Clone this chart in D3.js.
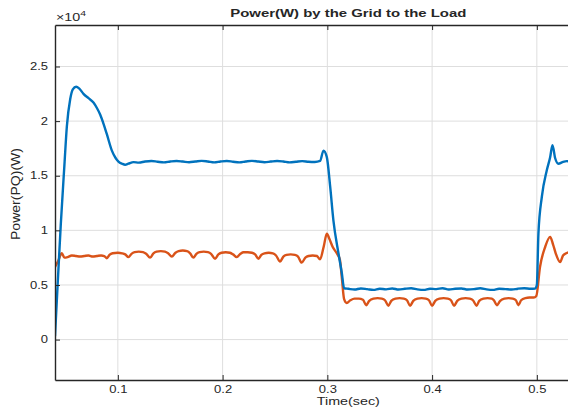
<!DOCTYPE html>
<html>
<head>
<meta charset="utf-8">
<script src="https://cdn.jsdelivr.net/npm/d3@7"></script>
<style>
  html, body { margin: 0; padding: 0; background: #fff; }
  svg { display: block; }
  text { font-family: "Liberation Sans", Arial, sans-serif; fill: #262626; }
</style>
</head>
<body>
<svg id="chart" width="568" height="409"></svg>
<script>
// Grid active power P (×10^4 W) over time (s)
const pTime = [0.040,0.0425,0.0455,0.049,0.0513,0.0545,0.057,0.0602,0.063,0.0672,0.072,0.0767,0.080,0.0831,0.0865,0.0895,0.0943,0.098,0.1006,0.104,0.107,0.110,0.115,0.120,0.126,0.132,0.138,0.144,0.150,0.156,0.162,0.168,0.174,0.180,0.186,0.192,0.198,0.204,0.210,0.216,0.222,0.228,0.234,0.240,0.246,0.252,0.258,0.264,0.270,0.276,0.282,0.288,0.2931,0.2963,0.2995,0.3027,0.3058,0.3106,0.3138,0.316,0.320,0.326,0.332,0.338,0.344,0.350,0.356,0.362,0.368,0.374,0.380,0.386,0.392,0.398,0.404,0.410,0.416,0.422,0.428,0.434,0.440,0.446,0.452,0.458,0.464,0.470,0.476,0.482,0.488,0.494,0.4984,0.500,0.5015,0.5048,0.5095,0.5127,0.5149,0.5175,0.5206,0.5245,0.5286,0.533,0.540];
const pValue = [0.03,0.50,1.05,1.60,1.95,2.20,2.29,2.315,2.30,2.25,2.21,2.17,2.12,2.06,1.97,1.88,1.73,1.66,1.63,1.61,1.60,1.61,1.625,1.62,1.63,1.635,1.628,1.622,1.63,1.635,1.63,1.624,1.63,1.636,1.63,1.622,1.63,1.635,1.628,1.622,1.63,1.636,1.63,1.624,1.63,1.635,1.63,1.622,1.628,1.634,1.628,1.626,1.635,1.73,1.67,1.40,1.09,0.79,0.61,0.47,0.465,0.458,0.468,0.462,0.455,0.466,0.46,0.468,0.458,0.465,0.47,0.46,0.455,0.466,0.462,0.47,0.458,0.465,0.468,0.458,0.462,0.47,0.46,0.455,0.466,0.462,0.458,0.466,0.47,0.465,0.468,0.50,0.97,1.31,1.55,1.67,1.78,1.66,1.61,1.625,1.634,1.63,1.632];

// Grid reactive power Q (×10^4 W) over time (s)
const qTime = [0.040,0.043,0.0465,0.049,0.052,0.056,0.060,0.064,0.068,0.072,0.076,0.080,0.084,0.087,0.0895,0.092,0.095,0.100,0.104,0.107,0.1101,0.113,0.116,0.120,0.124,0.127,0.1308,0.134,0.137,0.141,0.145,0.148,0.1515,0.155,0.158,0.162,0.166,0.169,0.1721,0.175,0.178,0.182,0.186,0.189,0.1928,0.196,0.199,0.203,0.207,0.210,0.2135,0.217,0.220,0.224,0.228,0.231,0.2342,0.237,0.240,0.244,0.248,0.251,0.2549,0.258,0.261,0.265,0.269,0.272,0.2755,0.279,0.282,0.286,0.290,0.293,0.2965,0.2995,0.302,0.305,0.309,0.312,0.3138,0.316,0.3185,0.322,0.326,0.330,0.334,0.337,0.340,0.344,0.348,0.352,0.355,0.3583,0.361,0.365,0.369,0.373,0.376,0.379,0.382,0.386,0.390,0.394,0.397,0.400,0.403,0.407,0.411,0.415,0.418,0.421,0.424,0.428,0.432,0.436,0.439,0.4425,0.445,0.449,0.453,0.457,0.459,0.4618,0.465,0.469,0.473,0.477,0.480,0.4824,0.485,0.489,0.493,0.497,0.4995,0.503,0.508,0.5127,0.5155,0.518,0.5222,0.525,0.528,0.532,0.540];
const qValue = [0.665,0.72,0.79,0.75,0.755,0.77,0.765,0.76,0.765,0.77,0.76,0.765,0.77,0.765,0.745,0.775,0.79,0.795,0.79,0.78,0.755,0.785,0.80,0.805,0.80,0.785,0.75,0.79,0.805,0.81,0.805,0.79,0.76,0.795,0.81,0.815,0.81,0.79,0.75,0.785,0.80,0.805,0.80,0.785,0.74,0.78,0.795,0.80,0.795,0.78,0.755,0.785,0.80,0.80,0.795,0.78,0.74,0.775,0.79,0.795,0.79,0.77,0.715,0.76,0.775,0.78,0.775,0.76,0.705,0.75,0.765,0.77,0.765,0.735,0.85,0.97,0.92,0.85,0.79,0.73,0.57,0.37,0.335,0.36,0.375,0.375,0.365,0.315,0.355,0.375,0.38,0.375,0.36,0.31,0.355,0.375,0.38,0.375,0.36,0.31,0.355,0.375,0.38,0.375,0.36,0.31,0.355,0.375,0.38,0.375,0.36,0.31,0.355,0.375,0.38,0.375,0.36,0.31,0.355,0.375,0.38,0.375,0.36,0.315,0.355,0.375,0.38,0.375,0.36,0.315,0.36,0.38,0.385,0.385,0.40,0.665,0.85,0.94,0.87,0.79,0.71,0.77,0.79,0.80,0.80];

const xTicks = [0.1, 0.2, 0.3, 0.4, 0.5];
const yTicks = [0, 0.5, 1, 1.5, 2, 2.5];

const titleText = "Power(W) by the Grid to the Load";
const xLabelText = "Time(sec)";
const yLabelText = "Power(PQ)(W)";

const colorP = "#0072BD";
const colorQ = "#D95319";
const STRETCH = 1.3;

const svg = d3.select("#chart");
const plotLeft = 55, plotRight = 641.6, plotTop = 25, plotBottom = 380;

const x = d3.scaleLinear().domain([0.04, 0.6]).range([plotLeft, plotRight]);
const y = d3.scaleLinear().domain([-0.37, 2.88]).range([plotBottom, plotTop]);

// widen text glyphs horizontally
function stretchText(sel, factor = STRETCH) {
  sel.each(function () {
    const len = this.getComputedTextLength();
    d3.select(this).attr("textLength", len * factor).attr("lengthAdjust", "spacingAndGlyphs");
  });
}

// grid
const grid = svg.append("g");
grid.selectAll("line.gx").data(xTicks).join("line")
  .attr("x1", d => x(d)).attr("x2", d => x(d))
  .attr("y1", plotTop).attr("y2", plotBottom)
  .attr("stroke", "#dedede").attr("stroke-width", 1);
grid.selectAll("line.gy").data(yTicks).join("line")
  .attr("x1", plotLeft).attr("x2", plotRight)
  .attr("y1", d => y(d)).attr("y2", d => y(d))
  .attr("stroke", "#dedede").attr("stroke-width", 1);

// data lines
svg.append("clipPath").attr("id", "plotclip")
  .append("rect").attr("x", plotLeft).attr("y", plotTop)
  .attr("width", plotRight - plotLeft).attr("height", plotBottom - plotTop);

const line = d3.line().curve(d3.curveMonotoneX);
const plot = svg.append("g").attr("clip-path", "url(#plotclip)");
plot.append("path")
  .attr("d", line(qTime.map((t, i) => [x(t), y(qValue[i])])))
  .attr("fill", "none").attr("stroke", colorQ).attr("stroke-width", 2.4)
  .attr("stroke-linejoin", "round");
plot.append("path")
  .attr("d", line(pTime.map((t, i) => [x(t), y(pValue[i])])))
  .attr("fill", "none").attr("stroke", colorP).attr("stroke-width", 2.4)
  .attr("stroke-linejoin", "round");

// axes (ticks point inward)
const xAxis = svg.append("g").attr("transform", `translate(0,${plotBottom})`)
  .call(d3.axisBottom(x).tickValues(xTicks).tickSizeInner(-5).tickSizeOuter(0).tickPadding(6).tickFormat(d3.format("")));
const xTop = svg.append("g").attr("transform", `translate(0,${plotTop})`)
  .call(d3.axisTop(x).tickValues(xTicks).tickSizeInner(-5).tickSizeOuter(0).tickFormat(""));
const yAxis = svg.append("g").attr("transform", `translate(${plotLeft},0)`)
  .call(d3.axisLeft(y).tickValues(yTicks).tickSizeInner(-5).tickSizeOuter(0).tickPadding(7).tickFormat(d3.format("")));

[xAxis, xTop, yAxis].forEach(g => {
  g.select(".domain").attr("stroke", "#262626").attr("stroke-width", 1.4);
  g.selectAll(".tick line").attr("stroke", "#262626").attr("stroke-width", 1);
  g.selectAll(".tick text").attr("fill", "#404040")
    .style("font-family", '"Liberation Sans", Arial, sans-serif').style("font-size", "10px");
});
xAxis.selectAll(".tick text").call(stretchText);
yAxis.selectAll(".tick text").call(stretchText);

// exponent marker
const expo = svg.append("text").attr("x", 56).attr("y", 21)
  .style("font-size", "11px").attr("fill", "#404040");
expo.append("tspan").text("×10");
expo.append("tspan").attr("dy", -5).style("font-size", "8px").text("4");
expo.call(stretchText);

// title
svg.append("text").attr("x", (plotLeft + plotRight) / 2).attr("y", 17)
  .attr("text-anchor", "middle").style("font-size", "10.5px").style("font-weight", "bold")
  .attr("fill", "#000").text(titleText).call(stretchText, 1.42);

// axis labels
svg.append("text").attr("x", (plotLeft + plotRight) / 2).attr("y", 405)
  .attr("text-anchor", "middle").style("font-size", "11px").attr("fill", "#404040")
  .text(xLabelText).call(stretchText);

svg.append("text")
  .attr("transform", `translate(20,194) scale(1.1,1) rotate(-90)`)
  .attr("text-anchor", "middle").style("font-size", "11px").attr("fill", "#404040")
  .attr("textLength", 92).attr("lengthAdjust", "spacingAndGlyphs")
  .text(yLabelText);
</script>
</body>
</html>
